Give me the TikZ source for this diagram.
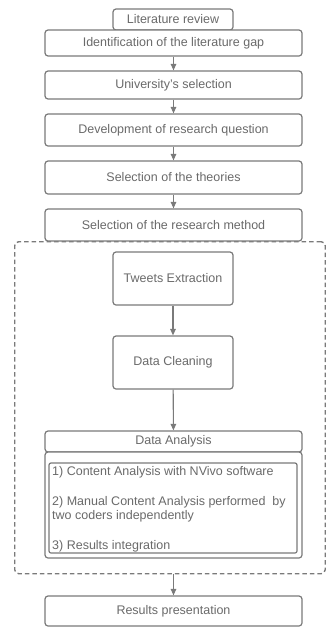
\documentclass[tikz,border=0pt]{standalone}
\usepackage{fontspec}
\setmainfont{Liberation Sans}
\usetikzlibrary{shapes.geometric, arrows.meta}
\definecolor{linegray}{HTML}{7A7A7A}
\definecolor{textgray}{HTML}{6A6A6A}
\tikzstyle{process} = [rectangle, rounded corners=3pt, minimum width=257pt, inner sep=0pt, text centered, draw=linegray, fill=white, line width=1.2pt, text=textgray, font=\fontsize{12.5}{14}\selectfont]
\tikzstyle{smallbox} = [process, minimum width=120pt]
\tikzstyle{arrow} = [-{Triangle[length=6.5pt,width=5.5pt]}, draw=linegray, fill=linegray, line width=1.1pt]

\begin{document}
\begin{tikzpicture}[x=1pt, y=-1pt]
\useasboundingbox (0,0) rectangle (326,627);

\node at (14,241) (frame) [anchor=north west, draw=linegray, dash pattern=on 4.5pt off 3pt, line width=1.4pt, rounded corners=4pt, minimum width=310.5pt, minimum height=332pt] {};

\node at (173,19.5) (lit) [smallbox, minimum height=21pt] {Literature review};
\node at (173.5,43) (gap) [process, minimum height=26pt] {Identification of the literature gap};
\node at (173.5,85) (univ) [process, minimum height=28pt] {University's selection};
\node at (173.5,130) (question) [process, minimum height=32pt] {Development of research question};
\node at (173.5,177.5) (theories) [process, minimum height=33pt] {Selection of the theories};
\node at (173.5,225) (method) [process, minimum height=32pt] {Selection of the research method};

\node at (173,278.5) (tweets) [smallbox, minimum height=53pt] {Tweets Extraction};
\node at (173,362.5) (cleaning) [smallbox, minimum height=53pt] {Data Cleaning};
\node at (173.5,441.5) (analysis) [process, minimum height=21pt] {Data Analysis};
\node at (173.5,505) (body) [process, minimum height=106pt] {};
\node at (173,508) (steps) [process, minimum width=248pt, minimum height=90pt, rounded corners=2pt] {};
\node at (52,466) (stepstext) [anchor=north west, inner sep=0pt, align=left, text=textgray, font=\fontsize{12.5}{14}\selectfont] {1) Content Analysis with NVivo software\\[16pt] 2) Manual Content Analysis performed\ \ by\\ two coders independently\\[16pt] 3) Results integration};

\node at (173.5,611) (results) [process, minimum height=30pt] {Results presentation};

\draw[arrow] (gap) -- (univ);
\draw[arrow] (univ) -- (question);
\draw[arrow] (question) -- (theories);
\draw[arrow] (theories) -- (method);
\draw[arrow] (tweets) -- (cleaning);
\draw[arrow] (cleaning) -- (analysis);
\draw[arrow] (frame.south -| results) -- (results);

\end{tikzpicture}
\end{document}
